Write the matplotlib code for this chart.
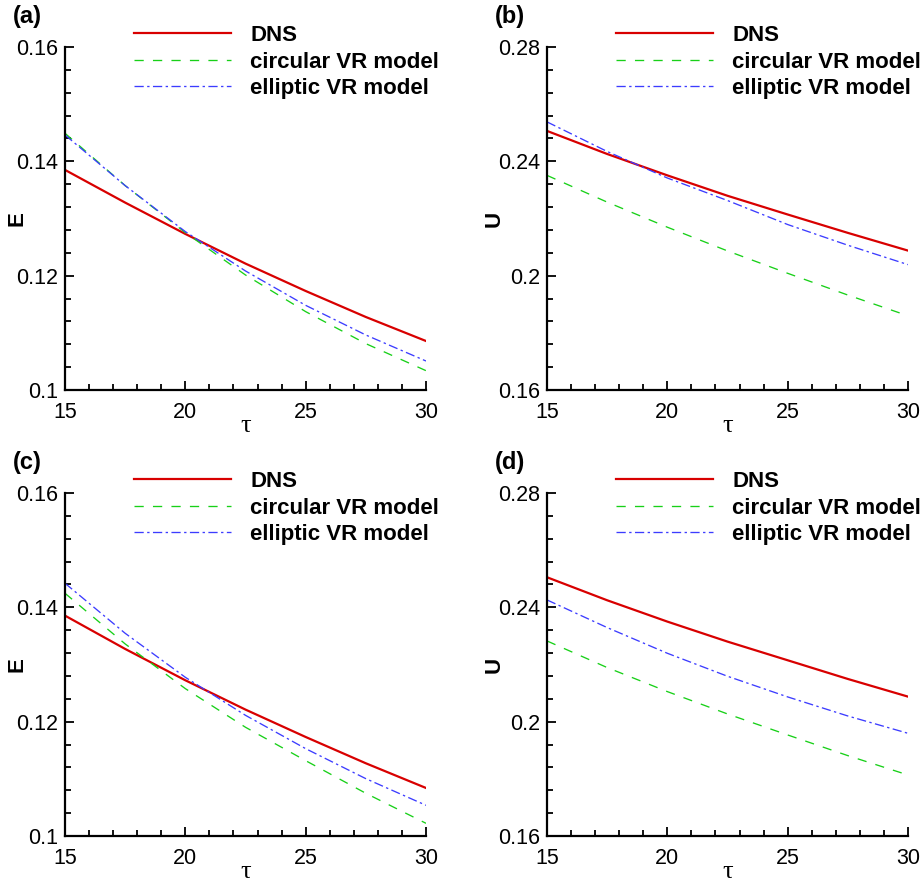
import numpy as np
import matplotlib
matplotlib.use("Agg")
import matplotlib.pyplot as plt
from matplotlib.ticker import MultipleLocator, FuncFormatter

plt.rcParams['font.family'] = ['Liberation Sans', 'DejaVu Sans']

tau = [15, 17.5, 20, 22.5, 25, 27.5, 30]

# (a) E, first case
E_dns_a = [0.1385, 0.13278, 0.1273, 0.12211, 0.11732, 0.11277, 0.10857]
E_cir_a = [0.14491, 0.13575, 0.12753, 0.12012, 0.11371, 0.10811, 0.10338]
E_ell_a = [0.14462, 0.13575, 0.12771, 0.12082, 0.11481, 0.10962, 0.10507]

# (b) U, first case
U_dns_b = [0.25064, 0.24257, 0.23509, 0.22795, 0.2214, 0.21497, 0.20877]
U_cir_b = [0.23509, 0.22573, 0.21696, 0.20866, 0.20083, 0.19322, 0.18596]
U_ell_b = [0.2538, 0.24345, 0.23417, 0.22629, 0.21789, 0.21065, 0.20386]

# (c) E, second case
E_dns_c = [0.13855, 0.13272, 0.12724, 0.12211, 0.11732, 0.11272, 0.1084]
E_cir_c = [0.14246, 0.1336, 0.12578, 0.11902, 0.11318, 0.10747, 0.10222]
E_ell_c = [0.14421, 0.13546, 0.12776, 0.12111, 0.11528, 0.11003, 0.10537]

# (d) U, second case
U_dns_d = [0.25052, 0.24247, 0.23501, 0.22801, 0.22148, 0.21494, 0.20876]
U_cir_d = [0.22824, 0.21893, 0.21052, 0.2027, 0.19535, 0.18812, 0.18135]
U_ell_d = [0.24259, 0.23292, 0.22393, 0.21589, 0.20866, 0.20199, 0.19593]

names = ['DNS', 'circular VR model', 'elliptic VR model']

W, H = 923, 886
fig = plt.figure(figsize=(W / 100, H / 100), dpi=100)

def box(l, r, t, b):
    return [l / W, 1 - b / H, (r - l) / W, (b - t) / H]

panels = [
    ('(a)', 'E', box(65, 426, 47, 390), E_dns_a, E_cir_a, E_ell_a, (0.1, 0.16), 0.02, -0.1025),
    ('(b)', 'U', box(547, 908, 47, 390), U_dns_b, U_cir_b, U_ell_b, (0.16, 0.28), 0.04, -0.116),
    ('(c)', 'E', box(65, 426, 493, 836), E_dns_c, E_cir_c, E_ell_c, (0.1, 0.16), 0.02, -0.1025),
    ('(d)', 'U', box(547, 908, 493, 836), U_dns_d, U_cir_d, U_ell_d, (0.16, 0.28), 0.04, -0.116),
]

fmt = FuncFormatter(lambda v, p: '%g' % round(v, 4))

for lab, ylab, rect, dns, cir, ell, ylim, ymaj, ylx in panels:
    ax = fig.add_axes(rect)
    ax.plot(tau, dns, color='#d80000', lw=1.6, label=names[0])
    ax.plot(tau, cir, color='#18d018', lw=0.95, ls=(0, (7, 7)), label=names[1])
    ax.plot(tau, ell, color='#3c3cff', lw=0.95, ls=(0, (7, 2.6, 1.8, 2.6)), label=names[2])
    ax.set_xlim(15, 30)
    ax.set_ylim(*ylim)
    ax.spines['top'].set_visible(False)
    ax.spines['right'].set_visible(False)
    for s in ['left', 'bottom']:
        ax.spines[s].set_linewidth(1.6)
    ax.xaxis.set_major_locator(MultipleLocator(5))
    ax.xaxis.set_minor_locator(MultipleLocator(1))
    ax.yaxis.set_major_locator(MultipleLocator(ymaj))
    ax.yaxis.set_minor_locator(MultipleLocator(ymaj / 5))
    ax.yaxis.set_major_formatter(fmt)
    ax.tick_params(which='both', direction='in', labelsize=15.5, width=1.3)
    ax.tick_params(which='major', length=6.5)
    ax.tick_params(which='minor', length=4)
    ax.tick_params(axis='x', pad=9)
    ax.tick_params(axis='y', pad=5)
    ax.set_xlabel('τ', family=['Liberation Serif', 'DejaVu Serif'], fontsize=19, labelpad=-6)
    ax.set_ylabel(ylab, fontweight='bold', fontsize=16)
    ax.yaxis.set_label_coords(ylx, 0.5)
    ax.text(-0.145, 1.09, lab, transform=ax.transAxes, fontsize=17,
            fontweight='bold', va='center', ha='left')
    ax.legend(loc='upper left', bbox_to_anchor=(0.19, 1.064), frameon=False,
              borderpad=0, borderaxespad=0, handlelength=4.4, handletextpad=0.85,
              labelspacing=0.25, prop={'weight': 'bold', 'size': 16})

fig.savefig('out.png', dpi=100)
